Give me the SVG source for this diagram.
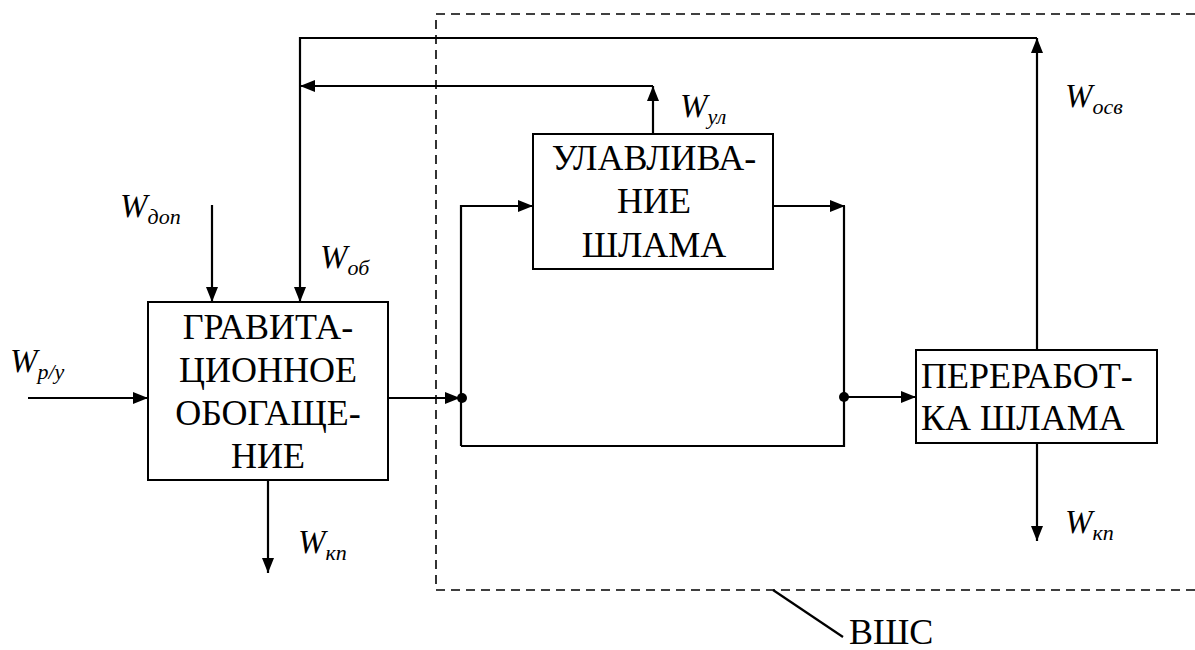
<svg xmlns="http://www.w3.org/2000/svg" width="1195" height="650" viewBox="0 0 1195 650">
<style>
.box{fill:#fff;stroke:#000;stroke-width:2}
.ln{fill:none;stroke:#000;stroke-width:2.2}
.dash{fill:none;stroke:#000;stroke-width:1.6;stroke-dasharray:9 6}
.t{font-family:'Liberation Serif','Times New Roman',serif;font-size:36px;fill:#000}
.w{font-family:'Liberation Serif','Times New Roman',serif;font-style:italic;font-size:33px;fill:#000}
.s{font-size:22px}
</style>
<defs>
<marker id="ah" viewBox="0 0 15 12" refX="15" refY="6" markerWidth="15" markerHeight="12" markerUnits="userSpaceOnUse" orient="auto">
<path d="M0,0 L15,6 L0,12 Z" fill="#000"/>
</marker>
</defs>
<rect width="1195" height="650" fill="#fff"/>
<g id="boundary">
<path class="dash" d="M1195,14 H436 V590 H1195"/>
<path class="ln" d="M773,590 L843,637" stroke-width="1.6"/>
<text class="t" x="849" y="644">ВШС</text>
</g>
<g id="connectors">
<path class="ln" d="M28,398 H148" marker-end="url(#ah)"/>
<path class="ln" d="M212,205 V302" marker-end="url(#ah)"/>
<path class="ln" d="M1037,38 H300 V302" marker-end="url(#ah)"/>
<path class="ln" d="M653,134 V86" marker-end="url(#ah)"/>
<path class="ln" d="M653,86 H300" marker-end="url(#ah)"/>
<path class="ln" d="M268,480 V573" marker-end="url(#ah)"/>
<path class="ln" d="M388,398 H460" marker-end="url(#ah)"/>
<path class="ln" d="M461,446 V206 H533" marker-end="url(#ah)"/>
<path class="ln" d="M461,446 H844 V206"/>
<path class="ln" d="M773,206 H845" marker-end="url(#ah)"/>
<path class="ln" d="M844,397 H916" marker-end="url(#ah)"/>
<path class="ln" d="M1037,350 V38" marker-end="url(#ah)"/>
<path class="ln" d="M1037,443 V541" marker-end="url(#ah)"/>
<circle cx="462" cy="398" r="5"/>
<circle cx="844" cy="397" r="5"/>
</g>
<g id="node-grav">
<rect class="box" x="148" y="302" width="240" height="178"/>
<text class="t" text-anchor="middle" x="268" y="339">ГРАВИТА-</text>
<text class="t" text-anchor="middle" x="268" y="382">ЦИОННОЕ</text>
<text class="t" text-anchor="middle" x="268" y="425">ОБОГАЩЕ-</text>
<text class="t" text-anchor="middle" x="268" y="468">НИЕ</text>
</g>
<g id="node-ulav">
<rect class="box" x="533" y="134" width="240" height="135"/>
<text class="t" text-anchor="middle" x="654" y="170">УЛАВЛИВА-</text>
<text class="t" text-anchor="middle" x="654" y="213">НИЕ</text>
<text class="t" text-anchor="middle" x="654" y="257">ШЛАМА</text>
</g>
<g id="node-pererab">
<rect class="box" x="916" y="350" width="241" height="93"/>
<text class="t" x="921" y="388">ПЕРЕРАБОТ-</text>
<text class="t" x="921" y="430">КА ШЛАМА</text>
</g>
<g id="labels">
<text class="w" x="10" y="372">W<tspan class="s" dy="7">p/y</tspan></text>
<text class="w" x="120" y="217">W<tspan class="s" dy="7">доп</tspan></text>
<text class="w" x="320" y="268">W<tspan class="s" dy="7">об</tspan></text>
<text class="w" x="298" y="553">W<tspan class="s" dy="7">кп</tspan></text>
<text class="w" x="680" y="117">W<tspan class="s" dy="7">ул</tspan></text>
<text class="w" x="1065" y="107">W<tspan class="s" dy="7">осв</tspan></text>
<text class="w" x="1065" y="533">W<tspan class="s" dy="7">кп</tspan></text>
</g>
</svg>
